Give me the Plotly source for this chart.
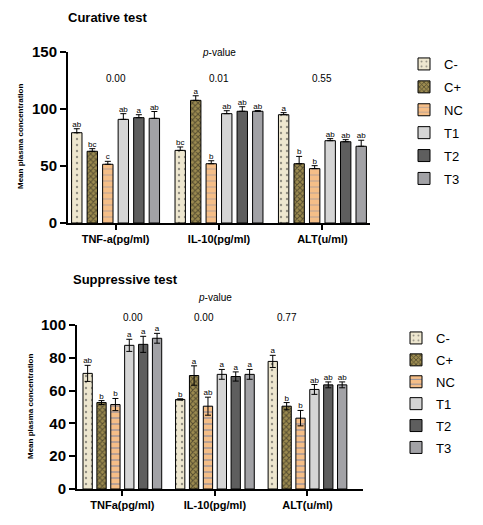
import plotly.graph_objects as go

groups = ["C-", "C+", "NC", "T1", "T2", "T3"]

# Curative test
cur_cats = ["TNF-a(pg/ml)", "IL-10(pg/ml)", "ALT(u/ml)"]
cur_c_neg = [79.2, 63.7, 95.0]
cur_c_pos = [62.9, 107.6, 52.0]
cur_nc = [51.5, 52.0, 47.7]
cur_t1 = [90.9, 95.9, 72.2]
cur_t2 = [92.4, 98.0, 71.3]
cur_t3 = [91.8, 98.0, 67.3]

cur_err_c_neg = [3.5, 3.0, 1.8]
cur_err_c_pos = [2.3, 4.0, 6.4]
cur_err_nc = [2.6, 2.6, 2.6]
cur_err_t1 = [5.0, 2.6, 1.8]
cur_err_t2 = [2.6, 4.0, 1.8]
cur_err_t3 = [6.0, 0.6, 5.3]

cur_let_c_neg = ["ab", "bc", "a"]
cur_let_c_pos = ["bc", "a", "b"]
cur_let_nc = ["c", "b", "b"]
cur_let_t1 = ["ab", "ab", "ab"]
cur_let_t2 = ["a", "ab", "ab"]
cur_let_t3 = ["ab", "ab", "ab"]

cur_pvals = ["0.00", "0.01", "0.55"]

# Suppressive test
sup_cats = ["TNFa(pg/ml)", "IL-10(pg/ml)", "ALT(u/ml)"]
sup_c_neg = [70.5, 54.6, 77.8]
sup_c_pos = [52.7, 69.2, 50.5]
sup_nc = [51.5, 50.5, 43.2]
sup_t1 = [87.6, 69.9, 60.7]
sup_t2 = [88.2, 68.6, 63.5]
sup_t3 = [91.9, 69.9, 63.5]

sup_err_c_neg = [4.9, 0.4, 3.7]
sup_err_c_pos = [1.2, 5.9, 2.2]
sup_err_nc = [3.7, 5.5, 4.7]
sup_err_t1 = [3.7, 3.0, 3.0]
sup_err_t2 = [4.9, 2.8, 1.8]
sup_err_t3 = [3.0, 3.0, 1.8]

sup_let_c_neg = ["ab", "b", "a"]
sup_let_c_pos = ["b", "a", "b"]
sup_let_nc = ["b", "ab", "b"]
sup_let_t1 = ["a", "a", "ab"]
sup_let_t2 = ["a", "a", "ab"]
sup_let_t3 = ["a", "a", "ab"]

sup_pvals = ["0.00", "0.00", "0.77"]
sup_pval_pos = [0.11, 0.88, 1.78]

cur_means = [cur_c_neg, cur_c_pos, cur_nc, cur_t1, cur_t2, cur_t3]
cur_errs = [cur_err_c_neg, cur_err_c_pos, cur_err_nc, cur_err_t1, cur_err_t2, cur_err_t3]
cur_lets = [cur_let_c_neg, cur_let_c_pos, cur_let_nc, cur_let_t1, cur_let_t2, cur_let_t3]
sup_means = [sup_c_neg, sup_c_pos, sup_nc, sup_t1, sup_t2, sup_t3]
sup_errs = [sup_err_c_neg, sup_err_c_pos, sup_err_nc, sup_err_t1, sup_err_t2, sup_err_t3]
sup_lets = [sup_let_c_neg, sup_let_c_pos, sup_let_nc, sup_let_t1, sup_let_t2, sup_let_t3]

FONT = "Liberation Sans, Arial, sans-serif"

# page body has an 8px margin, so the figure is a bit smaller than the window
W, H, OFF = 475, 517, 8


def fx(px):
    return (px - OFF) / W


def fy(py):
    return 1 - (py - OFF) / H


fills = {
    "C-": ("#EEE7CF", dict(shape=".", fgcolor="#333333", size=6, solidity=0.12)),
    "C+": ("#9C8B50", dict(shape="x", fgcolor="#111111", size=4, solidity=0.45)),
    "NC": ("#F5BE87", dict(shape="-", fgcolor="#8E8EA0", size=6, solidity=0.2)),
    "T1": ("#D5D5D5", None),
    "T2": ("#5E5E5E", None),
    "T3": ("#A2A2A6", None),
}

fig = go.Figure()


def add_panel(cats, means, errs, lets, xa, ya, legend, symmetric, nc_line):
    for g, m, e, l in zip(groups, means, errs, lets):
        color, pattern = fills[g]
        if g == "NC" and pattern is not None:
            pattern = dict(pattern, fgcolor=nc_line)
        marker = dict(color=color, line=dict(color="black", width=1))
        if pattern:
            marker["pattern"] = pattern
        err = dict(type="data", array=e, color="black", thickness=1, width=3)
        if not symmetric:
            err["symmetric"] = False
            err["arrayminus"] = [0] * len(e)
        fig.add_trace(go.Bar(
            x=cats, y=m, name=g, marker=marker, error_y=err,
            xaxis=xa, yaxis=ya, offsetgroup=g, legend=legend,
            legendgroup=legend + g,
        ))
        fig.add_trace(go.Scatter(
            x=cats, y=[a + b for a, b in zip(m, e)], mode="text", text=l,
            textposition="top center", textfont=dict(size=8, color="black"),
            xaxis=xa, yaxis=ya, offsetgroup=g, showlegend=False,
            cliponaxis=False,
        ))


add_panel(cur_cats, cur_means, cur_errs, cur_lets, "x", "y", "legend", False, "#8E8EA0")
add_panel(sup_cats, sup_means, sup_errs, sup_lets, "x2", "y2", "legend2", True, "#2A5DB0")

axis_common = dict(showline=True, linecolor="black", linewidth=2, ticks="outside",
                   tickcolor="black", showgrid=False, zeroline=False)

fig.update_layout(
    width=W, height=H,
    margin=dict(l=0, r=0, t=0, b=0, autoexpand=False),
    plot_bgcolor="white", paper_bgcolor="white",
    font=dict(family=FONT, color="black"),
    barmode="group", bargap=0.1, bargroupgap=0.33,
    scattermode="group", scattergap=0.1,
    xaxis=dict(axis_common, domain=[fx(68), fx(370)], anchor="y", type="category",
               range=[-0.46, 2.46], ticklen=5, tickwidth=1.5,
               tickfont=dict(size=11, weight="bold")),
    yaxis=dict(axis_common, domain=[fy(223), fy(52)], anchor="x", range=[0, 150],
               dtick=50, ticklen=6, tickwidth=2,
               tickfont=dict(size=15, weight="bold")),
    xaxis2=dict(axis_common, domain=[fx(77), fx(363)], anchor="y2", type="category",
                range=[-0.49, 2.6], ticklen=5, tickwidth=1.5,
                tickfont=dict(size=11, weight="bold")),
    yaxis2=dict(axis_common, domain=[fy(489), fy(325)], anchor="x2", range=[0, 100],
                dtick=20, ticklen=6, tickwidth=2,
                tickfont=dict(size=15, weight="bold")),
    legend=dict(x=fx(404), y=fy(49), xanchor="left", yanchor="top",
                font=dict(size=13), tracegroupgap=3, itemwidth=30),
    legend2=dict(x=fx(396), y=fy(323), xanchor="left", yanchor="top",
                 font=dict(size=13), tracegroupgap=2, itemwidth=30),
)

annotations = [
    dict(text="Curative test", x=fx(66), y=fy(17), xref="paper", yref="paper",
         xanchor="left", yanchor="middle", showarrow=False,
         font=dict(size=13, weight="bold")),
    dict(text="Suppressive test", x=fx(71), y=fy(279), xref="paper", yref="paper",
         xanchor="left", yanchor="middle", showarrow=False,
         font=dict(size=13, weight="bold")),
    dict(text="<i>p</i>-value", x=1, y=fy(52), xref="x", yref="paper",
         yanchor="middle", showarrow=False, font=dict(size=10)),
    dict(text="<i>p</i>-value", x=1, y=fy(297), xref="x2", yref="paper",
         yanchor="middle", showarrow=False, font=dict(size=10)),
    dict(text="Mean plasma concentration", x=fx(20), y=fy(137), xref="paper",
         yref="paper", xanchor="center", yanchor="middle", textangle=-90,
         showarrow=False, font=dict(size=8, weight="bold")),
    dict(text="Mean plasma concentration", x=fx(30), y=fy(407), xref="paper",
         yref="paper", xanchor="center", yanchor="middle", textangle=-90,
         showarrow=False, font=dict(size=8, weight="bold")),
]
for i, p in enumerate(cur_pvals):
    annotations.append(dict(text=p, x=i, y=fy(71), xref="x", yref="paper",
                            showarrow=False, font=dict(size=10)))
for xp, p in zip(sup_pval_pos, sup_pvals):
    annotations.append(dict(text=p, x=xp, y=fy(317), xref="x2", yref="paper",
                            showarrow=False, font=dict(size=10)))
fig.update_layout(annotations=annotations)

fig.write_html("out.html")
